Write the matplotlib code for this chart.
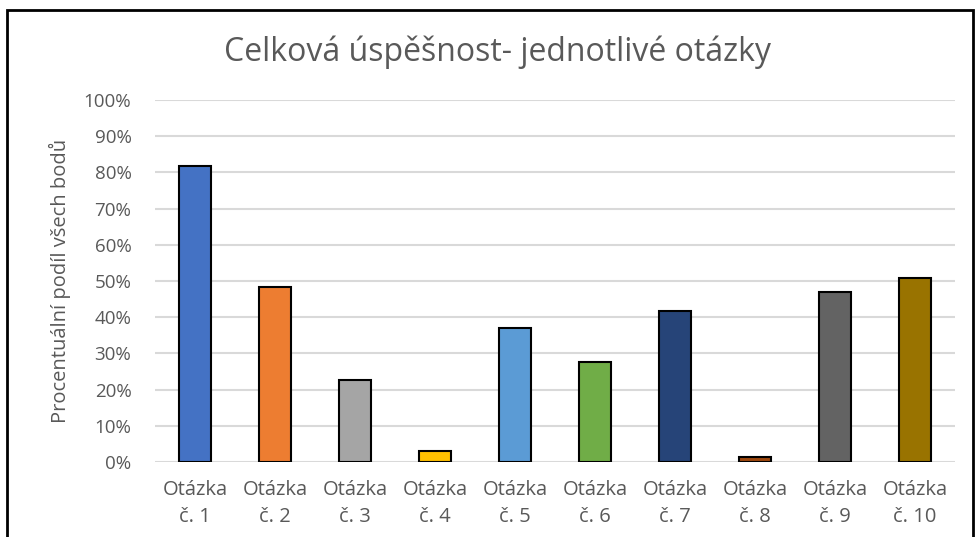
import matplotlib.pyplot as plt
from matplotlib.patches import Rectangle
from matplotlib.ticker import PercentFormatter
import numpy as np

categories = ['Otázka\nč. 1', 'Otázka\nč. 2', 'Otázka\nč. 3', 'Otázka\nč. 4', 'Otázka\nč. 5',
              'Otázka\nč. 6', 'Otázka\nč. 7', 'Otázka\nč. 8', 'Otázka\nč. 9', 'Otázka\nč. 10']
values = [81.8, 48.3, 22.7, 3.0, 37.0, 27.6, 41.7, 1.4, 47.0, 50.8]
colors = ['#4472C4', '#ED7D31', '#A5A5A5', '#FFC000', '#5B9BD5',
          '#70AD47', '#264478', '#9E480E', '#636363', '#997300']

plt.rcParams['font.family'] = ['Open Sans', 'DejaVu Sans']
text_color = '#595959'

fig = plt.figure(figsize=(9.79, 5.37), dpi=100)
ax = fig.add_axes([155/979, 1 - 462/537, 800/979, 362/537])

x = np.arange(len(categories))
ax.bar(x, values, width=0.41, color=colors, edgecolor='black', linewidth=1.5, zorder=3)

ax.set_ylim(0, 100)
ax.set_xlim(-0.5, len(categories) - 0.5)
ax.set_yticks(np.arange(0, 101, 10))
ax.yaxis.set_major_formatter(PercentFormatter(decimals=0))
ax.set_xticks(x)
ax.set_xticklabels(categories, fontsize=14.5, color=text_color, linespacing=1.45)
ax.tick_params(axis='y', labelsize=13.5, labelcolor=text_color, length=0, pad=17)
ax.tick_params(axis='x', length=0, pad=13)
ax.grid(axis='y', color='#D9D9D9', linewidth=1.5, zorder=0)
for s in ax.spines.values():
    s.set_visible(False)

ax.set_ylabel('Procentuální podíl všech bodů', fontsize=14.5, color=text_color, labelpad=9)
fig.text(498/979, 1 - 52/537, 'Celková úspěšnost- jednotlivé otázky', ha='center', va='center',
         fontsize=23, color=text_color)

frame = Rectangle((7/979, -0.1), 966/979, 1.1 - 10/537, transform=fig.transFigure,
                  fill=False, edgecolor='black', linewidth=2, clip_on=False)
fig.patches.append(frame)

fig.savefig('out.png', dpi=100)
